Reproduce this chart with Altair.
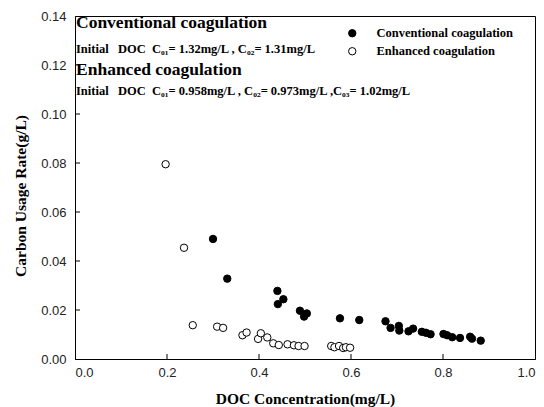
import altair as alt
import pandas as pd

# ---- data ----
series_names = ["Conventional coagulation", "Enhanced coagulation"]

conv_x = [0.300, 0.331, 0.440, 0.453, 0.441, 0.489, 0.504, 0.498, 0.576, 0.618,
          0.675, 0.686, 0.704, 0.705, 0.725, 0.735, 0.754, 0.763, 0.773, 0.801,
          0.809, 0.820, 0.837, 0.859, 0.863, 0.882]
conv_y = [0.0490, 0.0328, 0.0278, 0.0244, 0.0224, 0.0197, 0.0186, 0.0173, 0.0166, 0.0159,
          0.0154, 0.0127, 0.0135, 0.0116, 0.0113, 0.0124, 0.0111, 0.0107, 0.0101, 0.0102,
          0.0097, 0.0089, 0.0086, 0.0091, 0.0083, 0.0075]

enh_x = [0.197, 0.237, 0.256, 0.309, 0.322, 0.364, 0.373, 0.398, 0.404, 0.418,
         0.431, 0.443, 0.462, 0.476, 0.486, 0.499, 0.557, 0.564, 0.574, 0.583,
         0.589, 0.598]
enh_y = [0.0795, 0.0454, 0.0138, 0.0132, 0.0127, 0.0097, 0.0108, 0.0082, 0.0105, 0.0088,
         0.0064, 0.0057, 0.0060, 0.0056, 0.0053, 0.0053, 0.0053, 0.0048, 0.0053, 0.0045,
         0.0048, 0.0046]

x_ticks = [0.0, 0.2, 0.4, 0.6, 0.8, 1.0]
y_ticks = [0.00, 0.02, 0.04, 0.06, 0.08, 0.10, 0.12, 0.14]
x_inner_ticks = [0.2, 0.4, 0.6, 0.8]
y_inner_ticks = [0.02, 0.04, 0.06, 0.08, 0.10, 0.12]

notes = [
    "Conventional coagulation",
    "Initial\u00a0\u00a0\u00a0DOC\u00a0\u00a0C\u2080\u2081= 1.32mg/L , C\u2080\u2082= 1.31mg/L",
    "Enhanced coagulation",
    "Initial\u00a0\u00a0\u00a0DOC\u00a0\u00a0C\u2080\u2081= 0.958mg/L , C\u2080\u2082= 0.973mg/L ,C\u2080\u2083= 1.02mg/L",
]

x_title = "DOC Concentration(mg/L)"
y_title = "Carbon Usage Rate(g/L)"

# ---- tables ----
df = pd.DataFrame({
    "doc": conv_x + enh_x,
    "rate": conv_y + enh_y,
    "series": [series_names[0]] * len(conv_x) + [series_names[1]] * len(enh_x),
})
xt = pd.DataFrame({"v": x_inner_ticks})
yt = pd.DataFrame({"v": y_inner_ticks})

W, H = 460, 343
SERIF = "Liberation Serif"
SANS = "Liberation Sans"

xscale = alt.Scale(domain=[0, 1], nice=False, zero=False)
yscale = alt.Scale(domain=[0, 0.14], nice=False, zero=False)

points = alt.Chart(df).mark_point(
    shape="circle", filled=True, size=55, stroke="black", strokeWidth=1, opacity=1
).encode(
    x=alt.X("doc:Q", scale=xscale,
            axis=alt.Axis(values=x_ticks, format=".1f", title=x_title,
                          labelPadding=7, titleY=44, titleBaseline="alphabetic")),
    y=alt.Y("rate:Q", scale=yscale,
            axis=alt.Axis(values=y_ticks, format=".2f", title=y_title,
                          labelPadding=9, titleX=-55, titleY=H / 2 + 8,
                          titleAngle=270, titleAlign="center", titleBaseline="middle")),
    fill=alt.Fill("series:N",
                  scale=alt.Scale(domain=series_names, range=["black", "white"]),
                  legend=alt.Legend(orient="none", legendX=271, legendY=11, title=None,
                                    labelFont=SERIF, labelFontWeight="bold", labelFontSize=12.5,
                                    labelColor="black", symbolType="circle", symbolSize=55,
                                    symbolStrokeColor="black", symbolStrokeWidth=1,
                                    symbolOpacity=1, rowPadding=5, labelOffset=18, padding=0)),
)

xtick_rules = alt.Chart(xt).mark_rule(color="black", strokeWidth=1).encode(
    x=alt.X("v:Q", scale=xscale), y=alt.value(H), y2=alt.value(H - 5))
ytick_rules = alt.Chart(yt).mark_rule(color="black", strokeWidth=1).encode(
    y=alt.Y("v:Q", scale=yscale), x=alt.value(0), x2=alt.value(5))


def note(i, y, size):
    return alt.Chart(pd.DataFrame({"t": [notes[i]]})).mark_text(
        align="left", baseline="alphabetic", font=SERIF, fontWeight="bold",
        fontSize=size, color="black"
    ).encode(text="t:N", x=alt.value(1), y=alt.value(y))


chart = alt.layer(
    xtick_rules, ytick_rules, points,
    note(0, 12, 17.5), note(1, 37, 12.5), note(2, 59, 17.5), note(3, 79, 12.5),
).properties(
    width=W, height=H,
    autosize=alt.AutoSizeParams(type="none"),
    padding={"left": 67, "top": 8, "right": 1, "bottom": 48},
).configure_view(
    stroke="black", strokeWidth=1
).configure_axis(
    grid=False, tickSize=0, domainColor="black", domainWidth=1,
    labelFont=SANS, labelFontSize=13, labelColor="#222",
    titleFont=SERIF, titleFontWeight="bold", titleFontSize=15.5, titleColor="black",
)

chart.save("out.html", embed_options={"renderer": "svg", "actions": False})
